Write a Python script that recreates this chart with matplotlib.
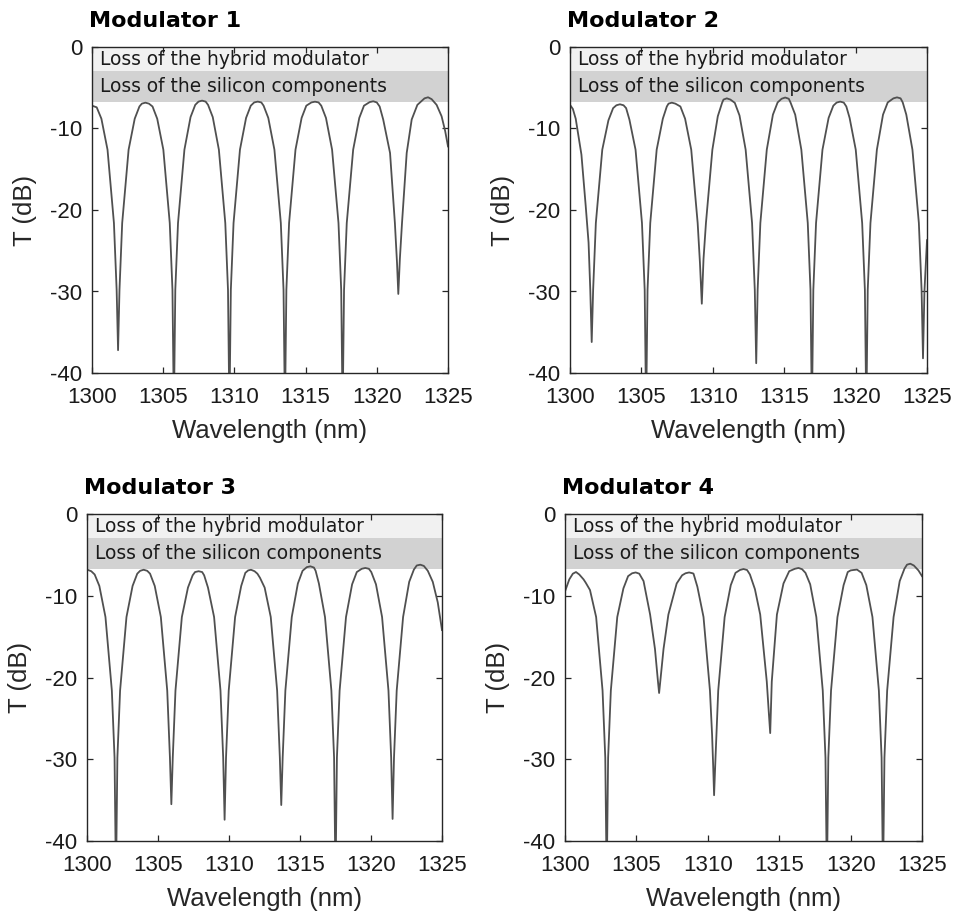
import matplotlib
matplotlib.use("Agg")
import matplotlib.pyplot as plt

plt.rcParams['axes.unicode_minus'] = False

# ---------------- data ----------------
titles = ["Modulator 1", "Modulator 2", "Modulator 3", "Modulator 4"]
band_labels = ["Loss of the hybrid modulator", "Loss of the silicon components"]
band_hybrid = (-2.95, 0.0)
band_silicon = (-6.7, -2.95)
x_ticks = [1300, 1305, 1310, 1315, 1320, 1325]
y_ticks = [0, -10, -20, -30, -40]

wl_m1 = [1300.0, 1300.33, 1300.66, 1301.09, 1301.54, 1301.73, 1301.83,
         1301.93, 1302.12, 1302.57, 1303.0, 1303.33, 1303.5, 1303.75, 1304.0, 1304.25, 1304.58, 1305.01, 1305.46, 1305.65, 1305.75,
         1305.85, 1306.04, 1306.49, 1306.92, 1307.25, 1307.48, 1307.73, 1307.98, 1308.15, 1308.48, 1308.91, 1309.36, 1309.55, 1309.65,
         1309.75, 1309.94, 1310.39, 1310.82, 1311.15, 1311.39, 1311.64, 1311.89, 1312.05, 1312.38, 1312.81, 1313.26, 1313.45, 1313.55,
         1313.65, 1313.84, 1314.29, 1314.72, 1315.05, 1315.41, 1315.66, 1315.91, 1316.1, 1316.43, 1316.86, 1317.31, 1317.5, 1317.6,
         1317.7, 1317.89, 1318.34, 1318.77, 1319.1, 1319.5, 1319.75, 1320.0, 1320.2, 1320.45, 1320.93, 1321.27, 1321.42, 1321.51,
         1321.62, 1321.77, 1322.1, 1322.45, 1322.85, 1323.35, 1323.6, 1323.85, 1324.2, 1324.55, 1324.8, 1325.0]
t_m1 = [-7.2, -7.4, -8.8, -12.6, -21.6, -29.8, -37.2,
        -29.8, -21.6, -12.6, -8.8, -7.3, -6.95, -6.83, -6.95, -7.3, -8.8, -12.6, -21.6, -29.8, -45,
        -29.8, -21.6, -12.6, -8.6, -7.1, -6.7, -6.58, -6.7, -7.1, -8.6, -12.6, -21.6, -29.8, -45,
        -29.8, -21.6, -12.6, -8.7, -7.2, -6.8, -6.7, -6.8, -7.2, -8.7, -12.6, -21.6, -29.8, -45,
        -29.8, -21.6, -12.6, -8.7, -7.2, -6.8, -6.71, -6.8, -7.2, -8.7, -12.6, -21.6, -29.8, -45,
        -29.8, -21.6, -12.6, -8.7, -7.2, -6.76, -6.66, -6.8, -7.3, -8.9, -13.0, -21.6, -26.5, -30.3,
        -26.0, -21.6, -13.0, -8.9, -7.1, -6.3, -6.17, -6.4, -7.1, -8.5, -10.3, -12.2]

wl_m2 = [1300.0, 1300.2, 1300.4, 1300.8, 1301.1, 1301.3, 1301.42, 1301.52,
         1301.62, 1301.81, 1302.26, 1302.69, 1303.02, 1303.25, 1303.5, 1303.75, 1303.93, 1304.16, 1304.59, 1305.04, 1305.23, 1305.33,
         1305.43, 1305.62, 1306.07, 1306.5, 1306.78, 1306.9, 1307.13, 1307.38, 1307.73, 1308.06, 1308.49, 1308.94, 1309.1, 1309.23,
         1309.35, 1309.52, 1309.97, 1310.35, 1310.65, 1310.75, 1310.98, 1311.23, 1311.54, 1311.87, 1312.3, 1312.75, 1312.94, 1313.04,
         1313.14, 1313.33, 1313.78, 1314.21, 1314.54, 1314.82, 1315.07, 1315.32, 1315.44, 1315.77, 1316.2, 1316.65, 1316.84, 1316.94,
         1317.04, 1317.23, 1317.68, 1318.11, 1318.44, 1318.67, 1318.92, 1319.17, 1319.35, 1319.58, 1320.01, 1320.46, 1320.65, 1320.75,
         1320.85, 1321.04, 1321.49, 1321.92, 1322.25, 1322.65, 1322.9, 1323.15, 1323.3, 1323.55, 1323.98, 1324.43, 1324.62, 1324.72,
         1324.82, 1325.0]
t_m2 = [-7.1, -7.6, -8.8, -13.2, -19.5, -24.0, -29.8, -36.2,
        -29.8, -21.6, -12.6, -9.0, -7.5, -7.15, -7.03, -7.15, -7.5, -8.9, -12.6, -21.6, -29.8, -45,
        -29.8, -21.6, -12.6, -8.8, -7.3, -6.95, -6.83, -6.95, -7.3, -8.8, -12.6, -21.6, -26.5, -31.5,
        -26.0, -21.6, -12.6, -8.5, -6.85, -6.45, -6.3, -6.45, -6.85, -8.4, -12.6, -21.6, -29.8, -38.8,
        -29.8, -21.6, -12.6, -8.3, -6.8, -6.35, -6.2, -6.35, -6.8, -8.3, -12.6, -21.6, -29.8, -45,
        -29.8, -21.6, -12.6, -8.7, -7.2, -6.82, -6.7, -6.82, -7.3, -8.7, -12.6, -21.6, -29.8, -45,
        -29.8, -21.6, -12.6, -8.3, -6.8, -6.3, -6.18, -6.3, -6.8, -8.3, -12.6, -21.6, -29.8, -38.2,
        -30.0, -23.7]

wl_m3 = [1300.0, 1300.3, 1300.54, 1300.87, 1301.3, 1301.75, 1301.94, 1302.04,
         1302.14, 1302.33, 1302.78, 1303.21, 1303.54, 1303.74, 1303.99, 1304.24, 1304.44, 1304.77, 1305.2, 1305.65, 1305.84, 1305.94,
         1306.04, 1306.23, 1306.68, 1307.11, 1307.44, 1307.61, 1307.86, 1308.11, 1308.25, 1308.52, 1308.95, 1309.4, 1309.59, 1309.69,
         1309.79, 1309.98, 1310.43, 1310.86, 1311.15, 1311.35, 1311.55, 1311.8, 1312.0, 1312.18, 1312.51, 1312.94, 1313.39, 1313.58, 1313.68,
         1313.78, 1313.97, 1314.42, 1314.85, 1315.18, 1315.48, 1315.73, 1315.98, 1316.1, 1316.33, 1316.76, 1317.21, 1317.4, 1317.5,
         1317.6, 1317.79, 1318.24, 1318.67, 1319.0, 1319.35, 1319.6, 1319.85, 1320.02, 1320.35, 1320.78, 1321.23, 1321.42, 1321.52,
         1321.62, 1321.81, 1322.26, 1322.69, 1323.02, 1323.22, 1323.47, 1323.72, 1324.0, 1324.35, 1324.7, 1325.0]
t_m3 = [-6.8, -7.0, -7.4, -8.8, -12.6, -21.6, -29.8, -45,
        -29.8, -21.6, -12.6, -8.8, -7.3, -6.95, -6.82, -6.95, -7.3, -8.8, -12.6, -21.6, -29.8, -35.5,
        -29.8, -21.6, -12.6, -9.0, -7.5, -7.1, -7.0, -7.1, -7.5, -9.0, -12.6, -21.6, -29.8, -37.4,
        -29.8, -21.6, -12.6, -8.8, -7.2, -6.9, -6.82, -7.0, -7.3, -7.8, -9.0, -12.6, -21.6, -29.8, -35.6,
        -29.8, -21.6, -12.6, -8.5, -6.95, -6.5, -6.4, -6.55, -6.95, -8.5, -12.6, -21.6, -29.8, -45,
        -29.8, -21.6, -12.6, -8.6, -7.1, -6.7, -6.6, -6.7, -7.1, -8.6, -12.6, -21.6, -29.8, -37.3,
        -29.8, -21.6, -12.6, -8.3, -6.8, -6.3, -6.2, -6.35, -6.95, -8.3, -10.8, -14.2]

wl_m4 = [1300.0, 1300.3, 1300.55, 1300.77, 1301.0, 1301.3, 1301.45, 1301.75, 1302.18, 1302.63, 1302.82, 1302.92,
         1303.02, 1303.21, 1303.66, 1304.09, 1304.42, 1304.7, 1304.95, 1305.2, 1305.5, 1305.96, 1306.3, 1306.5, 1306.59,
         1306.7, 1306.9, 1307.24, 1307.82, 1308.2, 1308.44, 1308.69, 1308.94, 1309.0, 1309.27, 1309.7, 1310.15, 1310.3, 1310.38, 1310.44,
         1310.54, 1310.73, 1311.18, 1311.61, 1311.94, 1312.25, 1312.5, 1312.75, 1312.95, 1313.3, 1313.67, 1314.13, 1314.28, 1314.37,
         1314.48, 1314.84, 1315.3, 1315.7, 1316.1, 1316.35, 1316.6, 1316.84, 1317.17, 1317.6, 1318.05, 1318.24, 1318.34,
         1318.44, 1318.63, 1319.08, 1319.51, 1319.8, 1320.0, 1320.2, 1320.45, 1320.77, 1321.1, 1321.53, 1321.98, 1322.17, 1322.27,
         1322.37, 1322.56, 1323.01, 1323.44, 1323.77, 1323.95, 1324.18, 1324.43, 1324.75, 1325.0]
t_m4 = [-9.47, -8.0, -7.3, -7.1, -7.4, -8.0, -8.4, -9.3, -12.6, -21.6, -29.8, -45,
        -29.8, -21.6, -12.6, -9.1, -7.6, -7.25, -7.15, -7.3, -8.2, -12.3, -16.5, -20.3, -21.9,
        -20.0, -16.5, -12.3, -8.5, -7.5, -7.25, -7.15, -7.25, -7.3, -8.9, -12.6, -21.6, -27.0, -31.0, -34.4,
        -29.8, -21.6, -12.6, -8.7, -7.2, -6.85, -6.73, -6.85, -7.4, -9.2, -12.3, -20.5, -24.5, -26.8,
        -20.5, -12.3, -8.5, -7.0, -6.7, -6.6, -6.75, -7.2, -8.6, -12.6, -21.6, -29.8, -45,
        -29.8, -21.6, -12.6, -8.7, -7.1, -6.9, -6.85, -6.8, -7.2, -8.7, -12.6, -21.6, -29.8, -45,
        -29.8, -21.6, -12.6, -8.2, -6.7, -6.2, -6.08, -6.3, -6.9, -7.6]

wls = [wl_m1, wl_m2, wl_m3, wl_m4]
ts = [t_m1, t_m2, t_m3, t_m4]

# ---------------- layout ----------------
W, H = 956, 922
fig = plt.figure(figsize=(W / 100, H / 100), dpi=100)
boxes_px = [(92, 47, 356, 326), (570, 47, 357, 326),
            (87, 514, 355, 327), (565, 514, 357, 327)]

tick_font = dict(family=['Liberation Sans', 'DejaVu Sans'], size=16)
label_font = dict(family=['Liberation Sans', 'DejaVu Sans'], size=18.5)
line_color = '#505050'
spine_color = '#262626'

for i, (x0, y0, w, h) in enumerate(boxes_px):
    ax = fig.add_axes([x0 / W, 1 - (y0 + h) / H, w / W, h / H])
    ax.axhspan(*band_hybrid, color='#f1f1f1', lw=0, zorder=0)
    ax.axhspan(*band_silicon, color='#d2d2d2', lw=0, zorder=0)
    ax.plot(wls[i], ts[i], color=line_color, lw=1.3, zorder=2,
            solid_joinstyle='round')
    ax.set_xlim(1300, 1325)
    ax.set_ylim(-40, 0)
    ax.set_xticks(x_ticks)
    ax.set_yticks(y_ticks)
    ax.set_xticklabels([str(v) for v in x_ticks], **tick_font)
    ax.set_yticklabels([str(v) for v in y_ticks], **tick_font)
    ax.tick_params(direction='in', top=True, right=True, length=4.5,
                   width=0.9, color=spine_color, labelcolor='#1a1a1a')
    ax.tick_params(axis='x', pad=10)
    ax.tick_params(axis='y', pad=7)
    for s in ax.spines.values():
        s.set_color(spine_color)
        s.set_linewidth(1.0)
        s.set_zorder(3)
    ax.set_xlabel("Wavelength (nm)", color='#262626', **label_font)
    ax.set_ylabel("T (dB)", color='#262626', **label_font)
    ax.xaxis.set_label_coords(0.5, -46 / h)
    ax.yaxis.set_label_coords(-55 / w, 0.5)
    ax.text(-3 / w, 1 + 20 / h, titles[i], transform=ax.transAxes,
            ha='left', va='baseline', fontsize=16, fontweight='bold',
            family='DejaVu Sans', color='black')
    ax.text(8 / w, -1.55, band_labels[0], transform=ax.get_yaxis_transform(),
            ha='left', va='center', fontsize=13.4, family='DejaVu Sans', color='#1a1a1a', zorder=4)
    ax.text(8 / w, -4.8, band_labels[1], transform=ax.get_yaxis_transform(),
            ha='left', va='center', fontsize=13.4, family='DejaVu Sans', color='#1a1a1a', zorder=4)

fig.savefig("out.png", dpi=100, facecolor='white')
